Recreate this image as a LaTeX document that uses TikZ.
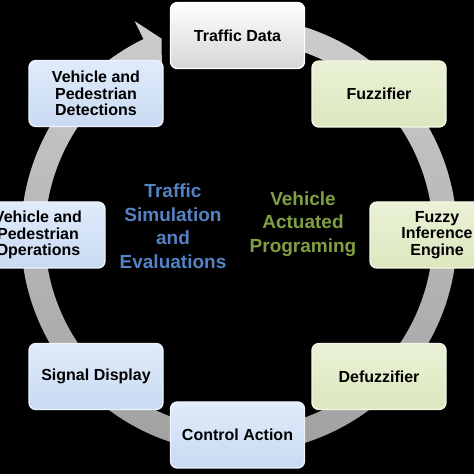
\documentclass[tikz,border=0pt]{standalone}
\usepackage{fontspec}
\setmainfont{Liberation Sans}
\usetikzlibrary{calc}
\definecolor{ringtop}{RGB}{205,205,205}
\definecolor{ringmid}{RGB}{212,212,212}
\definecolor{ringbot}{RGB}{160,160,160}
\definecolor{bluetop}{RGB}{224,235,250}
\definecolor{bluebot}{RGB}{200,218,242}
\definecolor{blueedge}{RGB}{236,243,253}
\definecolor{greentop}{RGB}{234,241,214}
\definecolor{greenbot}{RGB}{220,231,190}
\definecolor{greenedge}{RGB}{244,248,230}
\definecolor{whitetop}{RGB}{255,255,255}
\definecolor{whitebot}{RGB}{214,214,214}
\definecolor{blueText}{RGB}{84,130,196}
\definecolor{greenText}{RGB}{128,158,66}
\tikzset{
  stagebox/.style={rectangle, rounded corners=7pt, minimum width=134pt, minimum height=66pt,
    align=center, line width=1.4pt, inner sep=2pt,
    font=\fontsize{16}{16.3}\selectfont\bfseries, text=black},
  bluebox/.style={stagebox, draw=blueedge, top color=bluetop, bottom color=bluebot},
  greenbox/.style={stagebox, draw=greenedge, top color=greentop, bottom color=greenbot},
  whitebox/.style={stagebox, draw=white, top color=whitetop, bottom color=whitebot},
  midtext/.style={align=center, font=\fontsize{19}{23.5}\selectfont\bfseries}
}
\begin{document}
\begin{tikzpicture}[x=1pt,y=1pt]
\useasboundingbox (0,0) rectangle (474,474);
\fill[black] (0,0) rectangle (474,474);
\clip (0,0) rectangle (474,474);
% circular arrow
\coordinate (c) at (239,239);
\shade[top color=ringtop, middle color=ringmid, bottom color=ringbot]
  ($(c)+(88:218)$) arc[start angle=88, end angle=-244, radius=218]
  -- ($(c)+(-244:238)$) -- ($(c)+(-248.5:211)$) -- ($(c)+(-244:176)$)
  -- ($(c)+(-244:194)$) arc[start angle=-244, end angle=88, radius=194] -- cycle;
% boxes
\node[whitebox] (td) at (237.5,438.5) {Traffic Data};
\node[greenbox] (fz) at (379,380) {Fuzzifier};
\node[greenbox] (fie) at (437,239) {Fuzzy\\Inference\\Engine};
\node[greenbox] (dfz) at (379,97.5) {Defuzzifier};
\node[bluebox] (ca) at (237.5,39) {Control Action};
\node[bluebox] (sd) at (96,97.5) {Signal Display};
\node[bluebox] (vpo) at (38,239) {Vehicle and\\Pedestrian\\Operations};
\node[bluebox] (vpd) at (96,380.5) {Vehicle and\\Pedestrian\\Detections};
% centre labels
\node[midtext, text=blueText] (tse) at (173,248) {Traffic\\Simulation\\and\\Evaluations};
\node[midtext, text=greenText] (vap) at (303,250) {Vehicle\\Actuated\\Programing};
\end{tikzpicture}
\end{document}
